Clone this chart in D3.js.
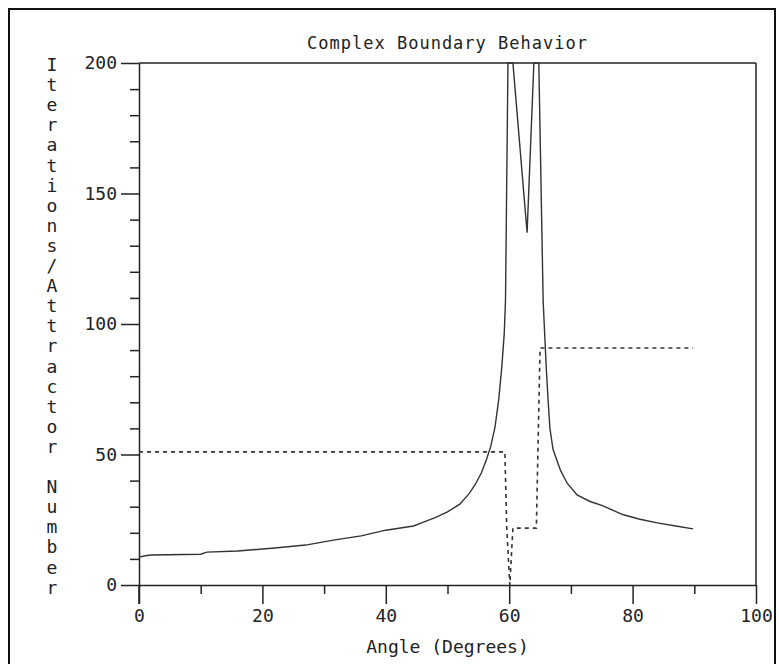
<!DOCTYPE html>
<html>
<head>
<meta charset="utf-8">
<script src="https://cdn.jsdelivr.net/npm/d3@7"></script>
<style>
  body { margin: 0; background: #fff; }
  svg text { font-family: "DejaVu Sans Mono", "Liberation Mono", monospace; fill: #222; }
</style>
</head>
<body>
<div id="chart"></div>
<script>
// ===== data =====
const title = "Complex Boundary Behavior";
const xTitle = "Angle (Degrees)";
const yTitle = "Iterations/Attractor Number";

const xMajorTicks = [0, 20, 40, 60, 80, 100];
const xMinorTicks = [10, 30, 50, 70, 90];
const yMajorTicks = [0, 50, 100, 150, 200];
const yMinorTicks = [10, 20, 30, 40, 60, 70, 80, 90, 110, 120, 130, 140, 160, 170, 180, 190];

// iterations (solid line)
const iterAngle = [0, 1, 2, 10, 11, 16, 22, 27, 31.5, 36, 40, 44.5, 46, 48, 50, 52, 53.5, 54.5, 55.5, 56.3, 57, 57.7, 58.3, 58.8, 59.2, 59.4, 59.8, 60.6, 62.9, 64.0, 64.8, 65.5, 66.0, 66.3, 66.6, 67.1, 68.3, 69.4, 71, 73.1, 75, 78.4, 81, 84, 87, 89.8];
const iterValue = [10.7, 11.2, 11.5, 11.8, 12.6, 13, 14.2, 15.3, 17.2, 18.8, 21, 22.6, 24, 25.8, 28, 31, 35, 38.5, 43, 48, 53, 60.5, 71, 83.5, 96.5, 109, 200, 200, 135, 200, 200, 109, 83.5, 71, 60, 52, 44, 39, 34.5, 32, 30.5, 27, 25.3, 23.8, 22.6, 21.5];

// attractor number (dashed line)
const attrAngle = [0, 59.3, 59.6, 60.1, 60.6, 64.4, 65.0, 89.8];
const attrValue = [51, 51, 22, 0, 21.8, 21.8, 90.8, 90.8];

// ===== layout =====
const W = 779, H = 664;
const svg = d3.select("#chart").append("svg")
  .attr("width", W)
  .attr("height", H);

// outer frame
svg.append("rect")
  .attr("x", 9).attr("y", 9)
  .attr("width", 766).attr("height", 700)
  .attr("fill", "none")
  .attr("stroke", "#111")
  .attr("stroke-width", 2);

const x = d3.scaleLinear().domain([0, 100]).range([139, 756]);
const y = d3.scaleLinear().domain([0, 200]).range([585, 63]);

const axisColor = "#222";

// x axis (major + minor)
const gx = svg.append("g")
  .attr("transform", `translate(0,${y(0)})`)
  .call(d3.axisBottom(x).tickValues(xMajorTicks).tickSizeInner(19).tickSizeOuter(0).tickPadding(5));
const gxm = svg.append("g")
  .attr("transform", `translate(0,${y(0)})`)
  .call(d3.axisBottom(x).tickValues(xMinorTicks).tickSize(9).tickFormat(""));
gxm.select(".domain").remove();

// y axis (major + minor)
const gy = svg.append("g")
  .attr("transform", `translate(${x(0)},0)`)
  .call(d3.axisLeft(y).tickValues(yMajorTicks).tickSizeInner(18).tickSizeOuter(0).tickPadding(4));
const gym = svg.append("g")
  .attr("transform", `translate(${x(0)},0)`)
  .call(d3.axisLeft(y).tickValues(yMinorTicks).tickSize(9).tickFormat(""));
gym.select(".domain").remove();

[gx, gxm, gy, gym].forEach(g => {
  g.selectAll("path, line").attr("stroke", axisColor).attr("stroke-width", 1.5);
  g.selectAll("text").style("font-size", "18px").attr("fill", "#222");
});

// y axis runs a little below zero
svg.append("line")
  .attr("x1", x(0)).attr("x2", x(0))
  .attr("y1", y(0)).attr("y2", y(0) + 19)
  .attr("stroke", axisColor).attr("stroke-width", 1.5);

// plot box: top and right
svg.append("line")
  .attr("x1", x(0)).attr("x2", x(100))
  .attr("y1", y(200)).attr("y2", y(200))
  .attr("stroke", axisColor).attr("stroke-width", 1.5);
svg.append("line")
  .attr("x1", x(100)).attr("x2", x(100))
  .attr("y1", y(200)).attr("y2", y(0))
  .attr("stroke", axisColor).attr("stroke-width", 1.5);

// ===== lines =====
const iterData = iterAngle.map((a, i) => ({a, v: iterValue[i]}));
const attrData = attrAngle.map((a, i) => ({a, v: attrValue[i]}));

const line = d3.line()
  .x(d => x(d.a))
  .y(d => y(d.v));

svg.append("path")
  .datum(attrData)
  .attr("fill", "none")
  .attr("stroke", "#333")
  .attr("stroke-width", 1.6)
  .attr("stroke-dasharray", "4,4")
  .attr("d", line);

svg.append("path")
  .datum(iterData)
  .attr("fill", "none")
  .attr("stroke", "#333")
  .attr("stroke-width", 1.4)
  .attr("d", line);

// ===== texts =====
svg.append("text")
  .attr("x", (x(0) + x(100)) / 2)
  .attr("y", 49)
  .attr("text-anchor", "middle")
  .style("font-size", "17px")
  .style("letter-spacing", "1px")
  .text(title);

svg.append("text")
  .attr("x", (x(0) + x(100)) / 2)
  .attr("y", 653)
  .attr("text-anchor", "middle")
  .style("font-size", "18px")
  .text(xTitle);

// stacked vertical y label
svg.append("g")
  .selectAll("text")
  .data(yTitle.split(""))
  .enter()
  .append("text")
  .attr("x", 52)
  .attr("y", (d, i) => 71 + i * 20.1)
  .attr("text-anchor", "middle")
  .style("font-size", "18px")
  .text(d => d);
</script>
</body>
</html>
